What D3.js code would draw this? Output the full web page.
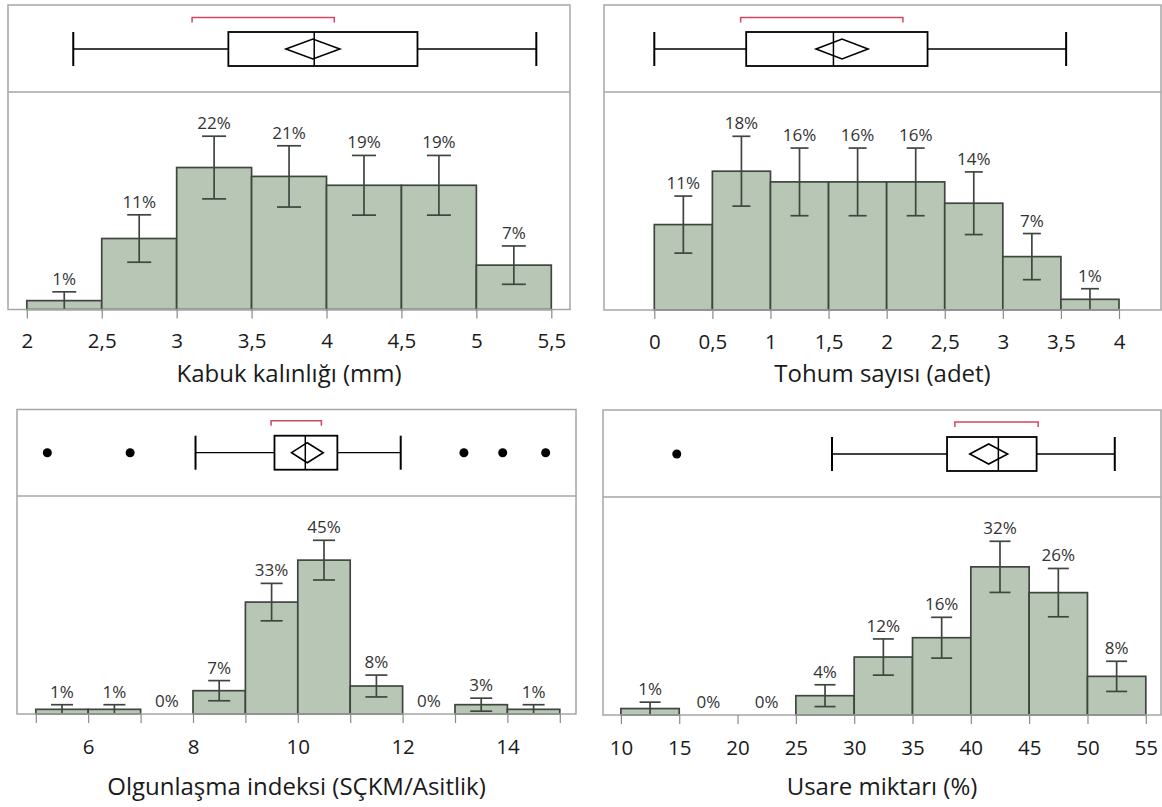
<!DOCTYPE html>
<html>
<head>
<meta charset="utf-8">
<script src="https://cdn.jsdelivr.net/npm/d3@7"></script>
<style>
  html, body { margin: 0; padding: 0; background: #ffffff; }
  svg { display: block; }
  text { font-family: "Open Sans", "Noto Sans", sans-serif; }
</style>
</head>
<body>
<svg id="chart" width="1162" height="807"></svg>
<script>
// ---------------- DATA ----------------
// Panel 1: Kabuk kalınlığı (mm)
const p1Title = "Kabuk kalınlığı (mm)";
const p1Edges = [2, 2.5, 3, 3.5, 4, 4.5, 5, 5.5];
const p1Pct = [1.37, 10.96, 21.92, 20.55, 19.18, 19.18, 6.85];
const p1SE = [1.36, 3.66, 4.84, 4.73, 4.61, 4.61, 2.96];
const p1Ticks = [2, 2.5, 3, 3.5, 4, 4.5, 5, 5.5];
const p1TickLabels = [2, 2.5, 3, 3.5, 4, 4.5, 5, 5.5];
const p1Whiskers = [2.31, 5.40];
const p1Quartiles = [3.345, 3.918, 4.607];
const p1Mean = [3.729, 3.909, 4.089];
const p1Shortest = [3.103, 4.052];
const p1Outliers = [];

// Panel 2: Tohum sayısı (adet)
const p2Title = "Tohum sayısı (adet)";
const p2Edges = [0, 0.5, 1, 1.5, 2, 2.5, 3, 3.5, 4];
const p2Pct = [10.96, 17.81, 16.44, 16.44, 16.44, 13.70, 6.85, 1.37];
const p2SE = [3.66, 4.48, 4.34, 4.34, 4.34, 4.02, 2.96, 1.36];
const p2Ticks = [0, 0.5, 1, 1.5, 2, 2.5, 3, 3.5, 4];
const p2TickLabels = [0, 0.5, 1, 1.5, 2, 2.5, 3, 3.5, 4];
const p2Whiskers = [0, 3.545];
const p2Quartiles = [0.791, 1.542, 2.352];
const p2Mean = [1.392, 1.616, 1.840];
const p2Shortest = [0.743, 2.140];
const p2Outliers = [];

// Panel 3: Olgunlaşma indeksi (SÇKM/Asitlik)
const p3Title = "Olgunlaşma indeksi (SÇKM/Asitlik)";
const p3Edges = [5, 6, 7, 8, 9, 10, 11, 12, 13, 14, 15];
const p3Pct = [1.37, 1.37, 0, 6.85, 32.88, 45.21, 8.22, 0, 2.74, 1.37];
const p3SE = [1.36, 1.36, 0, 2.96, 5.50, 5.83, 3.21, 0, 1.91, 1.36];
const p3Ticks = [5, 6, 7, 8, 9, 10, 11, 12, 13, 14, 15];
const p3TickLabels = [6, 8, 10, 12, 14];
const p3Whiskers = [8.048, 11.964];
const p3Quartiles = [9.555, 10.143, 10.755];
const p3Mean = [9.881, 10.18, 10.486];
const p3Shortest = [9.49, 10.45];
const p3Outliers = [5.22, 6.80, 13.17, 13.91, 14.73];

// Panel 4: Usare miktarı (%)
const p4Title = "Usare miktarı (%)";
const p4Edges = [10, 15, 20, 25, 30, 35, 40, 45, 50, 55];
const p4Pct = [1.37, 0, 0, 4.11, 12.33, 16.44, 31.51, 26.03, 8.22];
const p4SE = [1.36, 0, 0, 2.32, 3.85, 4.34, 5.44, 5.14, 3.21];
const p4Ticks = [10, 15, 20, 25, 30, 35, 40, 45, 50, 55];
const p4TickLabels = [10, 15, 20, 25, 30, 35, 40, 45, 50, 55];
const p4Whiskers = [28.1, 52.34];
const p4Quartiles = [37.96, 42.36, 45.64];
const p4Mean = [39.91, 41.53, 43.16];
const p4Shortest = [38.63, 45.77];
const p4Outliers = [14.79];

// ---------------- LAYOUT ----------------
const layouts = [
  { x0: 8,   x1: 570,  y0: 5,   ymid: 92,  y1: 309.5, xr: [26.8, 551.3], boxY: 49,  bracketY: 17.5, cap: 24, tickY: 341, titleY: 374 },
  { x0: 604, x1: 1161, y0: 5,   ymid: 92,  y1: 310,   xr: [654.3, 1119], boxY: 49,  bracketY: 17.5, cap: 18, tickY: 342, titleY: 374 },
  { x0: 17,  x1: 576,  y0: 409.5, ymid: 496, y1: 714, xr: [35.8, 559.8], boxY: 452.7, bracketY: 420.7, cap: 22, tickY: 747, titleY: 787 },
  { x0: 603, x1: 1161, y0: 410, ymid: 497, y1: 715,   xr: [620.9, 1145.8], boxY: 454, bracketY: 422, cap: 21, tickY: 748, titleY: 787 }
];

const panels = [
  { title: p1Title, edges: p1Edges, pct: p1Pct, se: p1SE, ticks: p1Ticks, tickLabels: p1TickLabels, whiskers: p1Whiskers, quartiles: p1Quartiles, mean: p1Mean, shortest: p1Shortest, outliers: p1Outliers },
  { title: p2Title, edges: p2Edges, pct: p2Pct, se: p2SE, ticks: p2Ticks, tickLabels: p2TickLabels, whiskers: p2Whiskers, quartiles: p2Quartiles, mean: p2Mean, shortest: p2Shortest, outliers: p2Outliers },
  { title: p3Title, edges: p3Edges, pct: p3Pct, se: p3SE, ticks: p3Ticks, tickLabels: p3TickLabels, whiskers: p3Whiskers, quartiles: p3Quartiles, mean: p3Mean, shortest: p3Shortest, outliers: p3Outliers },
  { title: p4Title, edges: p4Edges, pct: p4Pct, se: p4SE, ticks: p4Ticks, tickLabels: p4TickLabels, whiskers: p4Whiskers, quartiles: p4Quartiles, mean: p4Mean, shortest: p4Shortest, outliers: p4Outliers }
];

const COLORS = {
  frame: "#a6a6a6",
  barFill: "#b8c7b5",
  barStroke: "#3f463f",
  err: "#3f463f",
  box: "#000000",
  bracket: "#d2475f",
  tick: "#8a8a8a",
  text: "#1a1a1a",
  label: "#333333"
};

const FONT = { label: 17, tick: 20.5, title: 24 };

const locale = d3.formatLocale({ decimal: ",", thousands: ".", grouping: [3], currency: ["", ""] });
const fmtTick = locale.format("~g");
const fmtPct = v => Math.round(v) + "%";

const svg = d3.select("#chart");

panels.forEach((P, i) => {
  const L = layouts[i];
  const g = svg.append("g");
  const dom = [P.edges[0], P.edges[P.edges.length - 1]];
  const x = d3.scaleLinear().domain(dom).range(L.xr);
  const tops = P.pct.map((p, j) => p + P.se[j]);
  const yMax = d3.max(tops) * 1.255;
  const y = d3.scaleLinear().domain([0, yMax]).range([L.y1, L.ymid]);

  const bins = P.pct.map((p, j) => ({ x0: P.edges[j], x1: P.edges[j + 1], p: p, se: P.se[j] }));

  // bars
  g.append("g").selectAll("rect")
    .data(bins.filter(b => b.p > 0))
    .join("rect")
    .attr("x", b => x(b.x0))
    .attr("y", b => y(b.p))
    .attr("width", b => x(b.x1) - x(b.x0))
    .attr("height", b => y(0) - y(b.p))
    .attr("fill", COLORS.barFill)
    .attr("stroke", COLORS.barStroke)
    .attr("stroke-width", 1.7);

  // error bars
  const eb = g.append("g").attr("stroke", COLORS.err).attr("stroke-width", 1.7).attr("fill", "none");
  bins.filter(b => b.p > 0).forEach(b => {
    const cx = x((b.x0 + b.x1) / 2);
    const hi = y(b.p + b.se), lo = y(Math.max(0, b.p - b.se));
    eb.append("line").attr("x1", cx).attr("x2", cx).attr("y1", hi).attr("y2", lo);
    eb.append("line").attr("x1", cx - L.cap / 2).attr("x2", cx + L.cap / 2).attr("y1", hi).attr("y2", hi);
    if (b.p - b.se > 0.05) {
      eb.append("line").attr("x1", cx - L.cap / 2).attr("x2", cx + L.cap / 2).attr("y1", lo).attr("y2", lo);
    }
  });

  // percentage labels
  g.append("g").selectAll("text")
    .data(bins)
    .join("text")
    .attr("x", b => x((b.x0 + b.x1) / 2))
    .attr("y", b => y(b.p + b.se) - 7)
    .attr("text-anchor", "middle")
    .attr("font-size", FONT.label)
    .attr("fill", COLORS.label)
    .text(b => fmtPct(b.p));

  // frame
  const fr = g.append("g").attr("stroke", COLORS.frame).attr("stroke-width", 1.5).attr("fill", "none");
  fr.append("rect").attr("x", L.x0).attr("y", L.y0).attr("width", L.x1 - L.x0).attr("height", L.y1 - L.y0);
  fr.append("line").attr("x1", L.x0).attr("x2", L.x1).attr("y1", L.ymid).attr("y2", L.ymid);

  // axis
  const axis = d3.axisBottom(x)
    .tickValues(P.ticks)
    .tickSize(9)
    .tickFormat(v => P.tickLabels.includes(v) ? fmtTick(v) : "");
  const ax = g.append("g").attr("transform", `translate(0,${L.y1})`).call(axis);
  ax.select(".domain").remove();
  ax.selectAll(".tick line").attr("stroke", COLORS.tick).attr("stroke-width", 1.2);
  ax.selectAll(".tick text")
    .attr("y", 0).attr("dy", 0)
    .attr("transform", `translate(0,${L.tickY - L.y1 + 7})`)
    .attr("font-size", FONT.tick)
    .attr("font-family", "Open Sans, Noto Sans, sans-serif")
    .attr("fill", COLORS.text);

  // title
  g.append("text")
    .attr("x", (L.x0 + L.x1) / 2)
    .attr("y", L.titleY + 8)
    .attr("text-anchor", "middle")
    .attr("font-size", FONT.title)
    .attr("fill", COLORS.text)
    .text(P.title);

  // ---- box plot ----
  const by = L.boxY, bh = 17;
  const bp = g.append("g").attr("stroke", COLORS.box).attr("fill", "none");
  bp.append("line").attr("x1", x(P.whiskers[0])).attr("x2", x(P.quartiles[0])).attr("y1", by).attr("y2", by).attr("stroke-width", 1.3);
  bp.append("line").attr("x1", x(P.quartiles[2])).attr("x2", x(P.whiskers[1])).attr("y1", by).attr("y2", by).attr("stroke-width", 1.3);
  P.whiskers.forEach(w => {
    bp.append("line").attr("x1", x(w)).attr("x2", x(w)).attr("y1", by - bh).attr("y2", by + bh).attr("stroke-width", 2);
  });
  bp.append("rect")
    .attr("x", x(P.quartiles[0])).attr("y", by - bh)
    .attr("width", x(P.quartiles[2]) - x(P.quartiles[0])).attr("height", 2 * bh)
    .attr("stroke-width", 1.8);
  bp.append("line").attr("x1", x(P.quartiles[1])).attr("x2", x(P.quartiles[1])).attr("y1", by - bh).attr("y2", by + bh).attr("stroke-width", 1.5);
  const dh = 10;
  bp.append("path")
    .attr("d", `M${x(P.mean[0])},${by} L${x(P.mean[1])},${by - dh} L${x(P.mean[2])},${by} L${x(P.mean[1])},${by + dh} Z`)
    .attr("stroke-width", 1.6);
  g.append("g").selectAll("circle")
    .data(P.outliers)
    .join("circle")
    .attr("cx", d => x(d)).attr("cy", by).attr("r", 4.5)
    .attr("fill", "#000");
  const sb = L.bracketY;
  g.append("path")
    .attr("d", `M${x(P.shortest[0])},${sb + 5} V${sb} H${x(P.shortest[1])} V${sb + 5}`)
    .attr("fill", "none")
    .attr("stroke", COLORS.bracket)
    .attr("stroke-width", 1.5);
});
</script>
</body>
</html>
